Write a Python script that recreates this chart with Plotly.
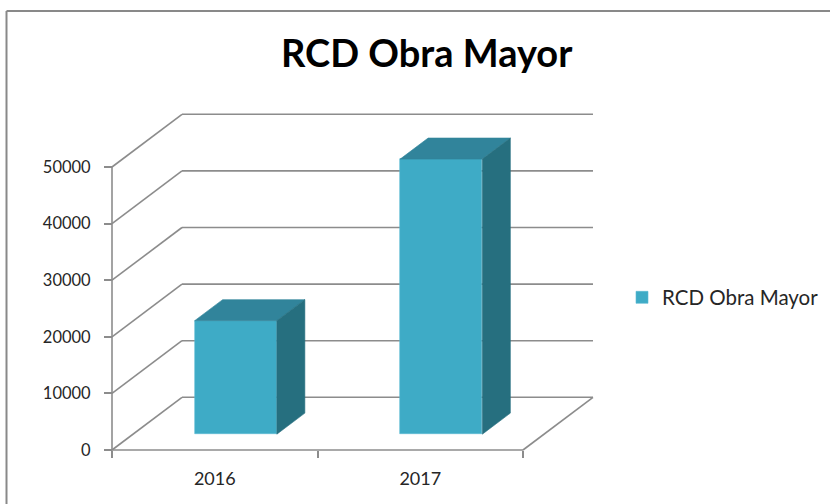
import plotly.graph_objects as go

# ---- data ----
categories = ["2016", "2017"]
values = [20050, 48600]
series_name = "RCD Obra Mayor"
title_text = "RCD Obra Mayor"
y_ticks = [0, 10000, 20000, 30000, 40000, 50000]

# ---- style / geometry ----
FONT = "Lato, Carlito, 'Open Sans', sans-serif"
GRID = "#8C8C8C"
FRONT = "#3EABC6"
TOP = "#31849B"
SIDE = "#266F7F"
DX = 0.3406      # depth offset of the back wall (category units)
DY = 9311        # depth offset of the back wall (value units)
F, B = 0.30, 0.70  # depth fractions of bar front / back
BW = 0.40        # bar width (category units)

W, H = 830, 504
ML, MR, MT, MB = 100, 0, 100, 44
PW, PH = W - ML - MR, H - MT - MB
PX_PER_CAT = 205.5
PX_PER_VAL = 56.6 / 10000
XL = (ML - 112) / PX_PER_CAT
XR = XL + PW / PX_PER_CAT
YB = -(H - MB - 450) / PX_PER_VAL
YT = YB + PH / PX_PER_VAL
posx = (0 - XL) / (XR - XL)
posy = (0 - YB) / (YT - YB)
n = len(categories)


def px2paper_x(px):
    return (px - ML) / PW


def px2paper_y(py):
    return (H - MB - py) / PH


fig = go.Figure()

# front faces of bars (real bar trace)
xc = [i + 0.5 + F * DX for i in range(n)]
fig.add_trace(go.Bar(
    x=xc, y=values, base=[F * DY] * n, width=BW,
    marker=dict(color=FRONT, line=dict(width=0.6, color="#5DBBD3")),
    name=series_name, showlegend=True, hoverinfo="skip",
))

# top and side faces
ddx = (B - F) * DX
for i, v in enumerate(values):
    xl = xc[i] - BW / 2
    xr = xc[i] + BW / 2
    yb = F * DY
    yt = F * DY + v
    yb2 = B * DY
    yt2 = B * DY + v
    fig.add_trace(go.Scatter(
        x=[xl, xr, xr + ddx, xl + ddx, xl], y=[yt, yt, yt2, yt2, yt],
        fill="toself", fillcolor=TOP, mode="lines", line=dict(width=0.6, color=TOP),
        showlegend=False, hoverinfo="skip"))
    fig.add_trace(go.Scatter(
        x=[xr, xr + ddx, xr + ddx, xr, xr], y=[yb, yb2, yt2, yt, yb],
        fill="toself", fillcolor=SIDE, mode="lines", line=dict(width=0.6, color=SIDE),
        showlegend=False, hoverinfo="skip"))

# invisible trace for category labels axis
fig.add_trace(go.Scatter(x=[i + 0.5 for i in range(n)], y=[0] * n, xaxis="x2",
                         mode="markers", marker=dict(opacity=0), showlegend=False,
                         hoverinfo="skip"))

shapes = []
lw = 1.6
# back wall gridlines + left wall diagonals
for t in y_ticks:
    shapes.append(dict(type="line", xref="x", yref="y", x0=DX, y0=t + DY, x1=n + DX, y1=t + DY,
                       line=dict(color=GRID, width=lw), layer="below"))
    shapes.append(dict(type="line", xref="x", yref="y", x0=0, y0=t, x1=DX, y1=t + DY,
                       line=dict(color=GRID, width=lw), layer="below"))
# floor front line and right edge
shapes.append(dict(type="line", xref="x", yref="y", x0=0, y0=0, x1=n, y1=0,
                   line=dict(color=GRID, width=lw), layer="below"))
shapes.append(dict(type="line", xref="x", yref="y", x0=n, y0=0, x1=n + DX, y1=DY,
                   line=dict(color=GRID, width=lw), layer="below"))
# front value axis line
shapes.append(dict(type="line", xref="x", yref="y", x0=0, y0=0, x1=0, y1=y_ticks[-1],
                   line=dict(color=GRID, width=lw), layer="below"))
# chart border (top and left visible)
bx = px2paper_x(6.5)
by = px2paper_y(11)
shapes.append(dict(type="line", xref="paper", yref="paper", x0=bx, y0=-0.5, x1=bx, y1=by,
                   line=dict(color="#898989", width=2)))
shapes.append(dict(type="line", xref="paper", yref="paper", x0=bx, y0=by, x1=1.5, y1=by,
                   line=dict(color="#898989", width=2)))

fig.update_layout(
    width=W, height=H,
    margin=dict(l=ML, r=MR, t=MT, b=MB, autoexpand=False),
    paper_bgcolor="white", plot_bgcolor="rgba(0,0,0,0)",
    font=dict(family=FONT, color="#262626"),
    shapes=shapes,
    xaxis=dict(range=[XL, XR], domain=[0, 1], anchor="free", position=posy,
               tickvals=list(range(n + 1)), ticks="outside", ticklen=7, tickwidth=1.6,
               tickcolor=GRID, showticklabels=False, showgrid=False, zeroline=False,
               showline=False, fixedrange=True),
    xaxis2=dict(range=[XL, XR], overlaying="x", anchor="free", position=posy, side="bottom",
                tickvals=[i + 0.5 for i in range(n)], ticktext=categories, ticks="",
                ticklabelstandoff=16, tickfont=dict(size=18, family=FONT, color="#262626"),
                showgrid=False, zeroline=False, showline=False),
    yaxis=dict(range=[YB, YT], anchor="free", position=posx, tickvals=y_ticks,
               ticktext=[str(t) for t in y_ticks], ticks="outside", ticklen=8, tickwidth=1.6,
               tickcolor=GRID, ticklabelstandoff=10,
               tickfont=dict(size=16.5, family=FONT, color="#262626"),
               showgrid=False, zeroline=False, showline=False),
    legend=dict(x=px2paper_x(622), y=px2paper_y(297.5), xanchor="left", yanchor="middle",
                font=dict(size=20.5, family=FONT, color="#262626"), bgcolor="rgba(0,0,0,0)"),
    annotations=[dict(text="<b>" + title_text + "</b>", xref="paper", yref="paper",
                      x=px2paper_x(427), y=px2paper_y(52), xanchor="center", yanchor="middle",
                      showarrow=False, font=dict(size=38, family=FONT, color="#000000"))],
    bargap=0,
)

fig.write_html("out.html", post_script="document.body.style.margin='0';",
               config={"displayModeBar": False})
